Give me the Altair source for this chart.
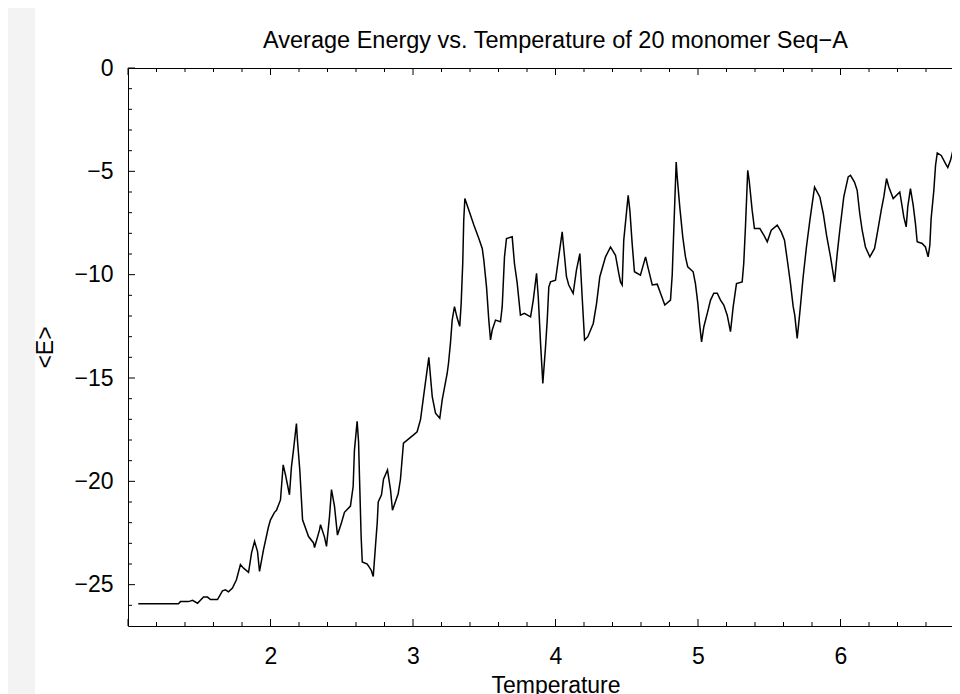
import altair as alt
import pandas as pd

# ---- data ----
temperature = [
    1.072, 1.354, 1.368, 1.425, 1.453, 1.488, 1.530, 1.558, 1.579, 1.628,
    1.663, 1.684, 1.705, 1.733, 1.761, 1.789, 1.811, 1.846, 1.867, 1.888,
    1.909, 1.923, 1.951, 1.986, 2.000, 2.028, 2.042, 2.070, 2.089, 2.105,
    2.133, 2.147, 2.161, 2.182, 2.189, 2.206, 2.218, 2.225, 2.267, 2.302,
    2.309, 2.344, 2.351, 2.379, 2.393, 2.414, 2.428, 2.449, 2.470, 2.498,
    2.519, 2.561, 2.580, 2.589, 2.608, 2.618, 2.625, 2.636, 2.644, 2.679,
    2.707, 2.721, 2.737, 2.749, 2.756, 2.779, 2.793, 2.821, 2.842, 2.856,
    2.896, 2.912, 2.933, 3.004, 3.029, 3.053, 3.074, 3.111, 3.135, 3.158,
    3.188, 3.205, 3.240, 3.249, 3.263, 3.275, 3.291, 3.310, 3.328, 3.338,
    3.349, 3.356, 3.364, 3.392, 3.427, 3.462, 3.486, 3.497, 3.516, 3.532,
    3.544, 3.556, 3.579, 3.614, 3.626, 3.642, 3.656, 3.696, 3.712, 3.731,
    3.754, 3.782, 3.825, 3.844, 3.867, 3.879, 3.895, 3.911, 3.930, 3.942,
    3.953, 3.965, 4.000, 4.016, 4.047, 4.056, 4.077, 4.093, 4.124, 4.147,
    4.171, 4.187, 4.204, 4.227, 4.265, 4.288, 4.311, 4.351, 4.386, 4.421,
    4.444, 4.456, 4.468, 4.479, 4.510, 4.522, 4.538, 4.554, 4.596, 4.632,
    4.648, 4.679, 4.714, 4.737, 4.767, 4.807, 4.819, 4.830, 4.847, 4.854,
    4.872, 4.893, 4.912, 4.928, 4.966, 4.982, 4.999, 5.011, 5.025, 5.041,
    5.065, 5.088, 5.111, 5.135, 5.158, 5.181, 5.205, 5.228, 5.247, 5.270,
    5.310, 5.321, 5.333, 5.349, 5.359, 5.380, 5.396, 5.434, 5.462, 5.486,
    5.514, 5.556, 5.584, 5.607, 5.630, 5.649, 5.668, 5.679, 5.696, 5.714,
    5.738, 5.761, 5.785, 5.818, 5.855, 5.879, 5.902, 5.930, 5.958, 5.977,
    5.995, 6.023, 6.054, 6.070, 6.098, 6.117, 6.135, 6.152, 6.175, 6.206,
    6.239, 6.262, 6.286, 6.304, 6.323, 6.339, 6.370, 6.393, 6.416, 6.433,
    6.444, 6.461, 6.472, 6.491, 6.510, 6.526, 6.538, 6.573, 6.596, 6.615,
    6.627, 6.636, 6.655, 6.667, 6.679, 6.707, 6.737, 6.753, 6.772, 6.795,
    6.814, 6.837, 6.860,
]
energy = [
    -25.92, -25.92, -25.82, -25.82, -25.76, -25.90, -25.60, -25.60, -25.72, -25.72,
    -25.30, -25.25, -25.35, -25.16, -24.76, -24.03, -24.20, -24.40, -23.46, -22.90,
    -23.40, -24.36, -23.30, -22.20, -21.86, -21.50, -21.40, -20.90, -19.20, -19.68,
    -20.65, -19.30, -18.50, -17.20, -18.00, -19.50, -21.00, -21.86, -22.67, -22.98,
    -23.20, -22.35, -22.10, -22.70, -23.15, -21.70, -20.40, -21.20, -22.60, -22.00,
    -21.50, -21.20, -20.25, -18.50, -17.10, -18.10, -19.90, -22.67, -23.90, -24.00,
    -24.30, -24.60, -23.10, -22.00, -21.00, -20.65, -19.90, -19.45, -20.40, -21.40,
    -20.60, -19.90, -18.15, -17.75, -17.60, -17.00, -15.90, -14.00, -15.90, -16.70,
    -16.95, -16.06, -14.77, -14.30, -13.30, -12.20, -11.55, -12.10, -12.50, -11.40,
    -9.46, -7.37, -6.32, -6.88, -7.60, -8.25, -8.73, -9.30, -10.60, -12.20,
    -13.16, -12.68, -12.20, -12.28, -11.55, -9.14, -8.25, -8.17, -9.46, -10.40,
    -11.96, -11.87, -12.04, -11.23, -9.94, -11.07, -13.30, -15.26, -13.50, -12.20,
    -10.60, -10.35, -10.27, -9.46, -7.93, -8.60, -10.10, -10.50, -10.90, -9.78,
    -8.98, -11.07, -13.16, -13.00, -12.36, -11.40, -10.10, -9.14, -8.66, -9.06,
    -9.94, -10.35, -10.50, -8.33, -6.16, -6.90, -8.50, -9.86, -10.02, -9.14,
    -9.62, -10.50, -10.46, -10.90, -11.47, -11.23, -10.02, -7.85, -4.55, -5.27,
    -6.72, -8.17, -9.14, -9.62, -9.86, -10.43, -11.40, -12.36, -13.25, -12.52,
    -11.87, -11.23, -10.90, -10.90, -11.23, -11.47, -11.96, -12.76, -11.55, -10.43,
    -10.35, -9.46, -7.69, -4.95, -5.43, -6.88, -7.77, -7.77, -8.09, -8.41,
    -7.85, -7.60, -7.93, -8.33, -9.46, -10.43, -11.55, -11.96, -13.08, -11.87,
    -10.10, -8.66, -7.37, -5.76, -6.24, -7.04, -8.09, -9.14, -10.35, -8.98,
    -7.85, -6.24, -5.27, -5.19, -5.52, -5.92, -7.04, -7.85, -8.66, -9.14,
    -8.73, -7.85, -6.88, -6.24, -5.35, -5.76, -6.32, -6.16, -6.00, -6.72,
    -7.20, -7.69, -6.72, -5.84, -6.64, -7.53, -8.41, -8.49, -8.66, -9.14,
    -8.57, -7.29, -5.92, -4.71, -4.11, -4.23, -4.63, -4.82, -4.47, -3.82,
    -4.15, -4.43, -4.55,
]

x_label_values = [2, 3, 4, 5, 6]
y_label_values = [0, -5, -10, -15, -20, -25]
x_major_ticks = [1, 2, 3, 4, 5, 6, 7]
x_minor_ticks = [1.2, 1.4, 1.6, 1.8, 2.2, 2.4, 2.6, 2.8, 3.2, 3.4, 3.6, 3.8,
                 4.2, 4.4, 4.6, 4.8, 5.2, 5.4, 5.6, 5.8, 6.2, 6.4, 6.6, 6.8]
y_major_ticks = [0, -5, -10, -15, -20, -25]
y_minor_ticks = [-1, -2, -3, -4, -6, -7, -8, -9, -11, -12, -13, -14,
                 -16, -17, -18, -19, -21, -22, -23, -24, -26]

title_text = "Average Energy vs. Temperature of 20 monomer Seq\u2212A"

W, H = 855, 558
FONT = "Liberation Sans"
FS = 23

x_scale = alt.Scale(domain=[1, 7], nice=False, zero=False)
y_scale = alt.Scale(domain=[-27, 0], nice=False, zero=False)

x_axis = alt.Axis(
    values=x_label_values, format="d", title="Temperature",
    ticks=False, tickSize=0, domain=False, grid=False,
    labelPadding=19, labelFont=FONT, labelFontSize=FS, labelColor="black",
    titleFont=FONT, titleFontSize=FS, titleFontWeight="normal", titleColor="black",
    titleY=48, titleBaseline="top")
y_axis = alt.Axis(
    values=y_label_values, format="d", title="<E>",
    ticks=False, tickSize=0, domain=False, grid=False,
    labelPadding=15, labelFont=FONT, labelFontSize=FS, labelColor="black",
    titleFont=FONT, titleFontSize=FS, titleFontWeight="normal", titleColor="black",
    titleX=-83, titleY=H / 2, titleAngle=270, titleAlign="center",
    titleBaseline="middle")

df = pd.DataFrame({"T": temperature, "E": energy})

line = alt.Chart(df).mark_line(color="black", strokeWidth=1.5).encode(
    x=alt.X("T:Q", scale=x_scale, axis=x_axis),
    y=alt.Y("E:Q", scale=y_scale, axis=y_axis),
)

def xticks(values, size):
    d = pd.DataFrame({"T": values})
    bottom = alt.Chart(d).mark_rule(color="black", strokeWidth=1).encode(
        x=alt.X("T:Q", scale=x_scale, axis=x_axis),
        y=alt.value(H), y2=alt.value(H - size))
    top = alt.Chart(d).mark_rule(color="black", strokeWidth=1).encode(
        x=alt.X("T:Q", scale=x_scale, axis=x_axis),
        y=alt.value(0), y2=alt.value(size))
    return [bottom, top]

def yticks(values, size):
    d = pd.DataFrame({"E": values})
    left = alt.Chart(d).mark_rule(color="black", strokeWidth=1).encode(
        y=alt.Y("E:Q", scale=y_scale, axis=y_axis),
        x=alt.value(0), x2=alt.value(size))
    return [left]

strip = alt.Chart(pd.DataFrame({"a": [0]})).mark_rect(color="#f3f3f3").encode(
    x=alt.value(-120), x2=alt.value(-93), y=alt.value(-60), y2=alt.value(H + 70))

layers = [strip, line] + xticks(x_major_ticks, 7) + xticks(x_minor_ticks, 4) \
    + yticks(y_major_ticks, 7) + yticks(y_minor_ticks, 4)

chart = alt.layer(*layers).properties(
    width=W, height=H,
    title=alt.TitleParams(title_text, font=FONT, fontSize=23.5, fontWeight="normal",
                          color="black", anchor="middle", offset=0, dy=44),
    autosize=alt.AutoSizeParams(type="none"),
    padding={"left": 120, "top": 60, "right": -31, "bottom": 70},
    background="white",
).configure_view(stroke="black", strokeWidth=1)

chart.save("out.html", embed_options={"renderer": "svg", "actions": False})
